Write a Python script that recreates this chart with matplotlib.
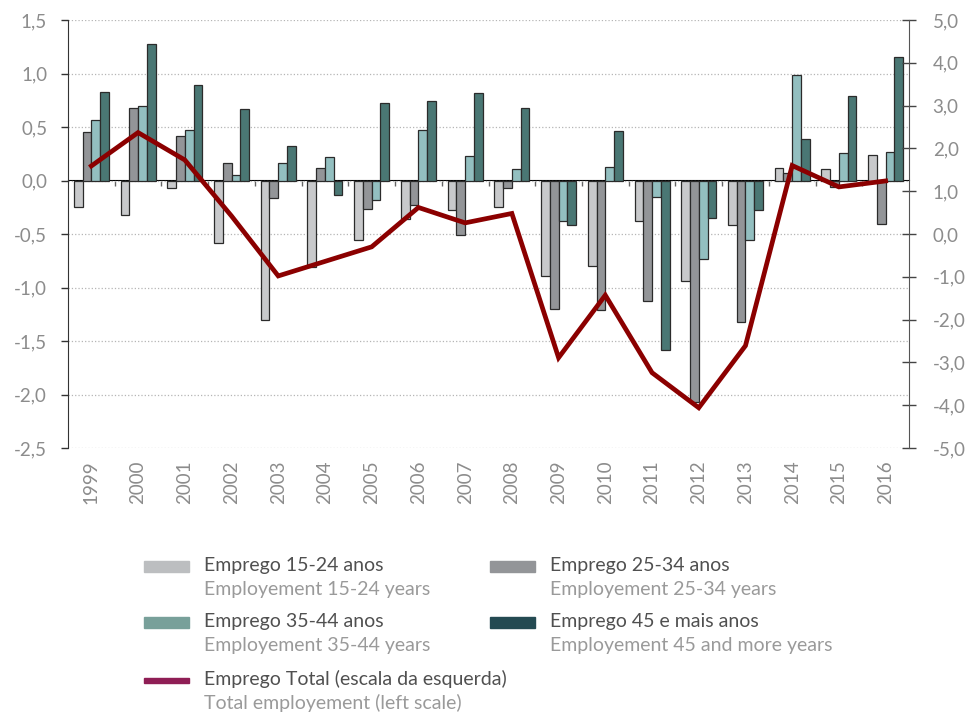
import numpy as np
import matplotlib
matplotlib.use("Agg")
import matplotlib.pyplot as plt
from matplotlib.patches import Rectangle

plt.rcParams['font.family'] = ['Lato', 'DejaVu Sans']

# data
years = [str(y) for y in range(1999, 2017)]
emp_15_24 = [-0.25, -0.32, -0.07, -0.58, -1.30, -0.81, -0.56, -0.36, -0.28, -0.25,
             -0.89, -0.80, -0.38, -0.94, -0.42, 0.12, 0.11, 0.24]
emp_25_34 = [0.45, 0.68, 0.42, 0.16, -0.16, 0.12, -0.27, -0.23, -0.51, -0.07,
             -1.20, -1.21, -1.13, -2.07, -1.32, 0.07, -0.06, -0.41]
emp_35_44 = [0.57, 0.70, 0.47, 0.05, 0.16, 0.22, -0.18, 0.47, 0.23, 0.11,
             -0.38, 0.13, -0.15, -0.73, -0.56, 0.99, 0.26, 0.27]
emp_45_mais = [0.83, 1.28, 0.89, 0.67, 0.32, -0.14, 0.72, 0.74, 0.82, 0.68,
               -0.42, 0.46, -1.58, -0.35, -0.28, 0.39, 0.79, 1.15]
emp_total = [1.59, 2.37, 1.73, 0.42, -0.98, -0.64, -0.30, 0.62, 0.26, 0.48,
             -2.89, -1.43, -3.24, -4.06, -2.61, 1.60, 1.10, 1.24]

series = [emp_15_24, emp_25_34, emp_35_44, emp_45_mais]
bar_cols = ["#c8c9cb", "#939598", "#93bfc0", "#4a7774"]
leg_cols = ["#bcbec0", "#939598", "#78a09a", "#244a52"]
leg_pt = ["Emprego 15-24 anos", "Emprego 25-34 anos", "Emprego 35-44 anos",
          "Emprego 45 e mais anos", "Emprego Total (escala da esquerda)"]
leg_en = ["Employement 15-24 years", "Employement 25-34 years", "Employement 35-44 years",
          "Employement 45 and more years", "Total employement (left scale)"]

W, H = 969, 714
fig = plt.figure(figsize=(W / 100, H / 100), dpi=100)
ax = fig.add_axes([68 / W, 1 - 448 / H, (909 - 68) / W, (448 - 20) / H])

x = np.arange(len(years))
w = 0.75 / 4
for k, vals in enumerate(series):
    ax.bar(x + (k - 1.5) * w, vals, w, color=bar_cols[k], edgecolor="#2b2b2b",
           linewidth=0.9, zorder=3)

grey = "#8c8c8c"
ax.set_xlim(-0.5, len(years) - 0.5)
ax.set_ylim(-2.5, 1.5)
ax.set_yticks(np.arange(-2.5, 1.51, 0.5))
ax.set_yticklabels([f"{v:.1f}".replace(".", ",") for v in np.arange(-2.5, 1.51, 0.5)])
ax.yaxis.grid(True, linestyle=":", color="#b5b5b5", linewidth=0.9, zorder=0)
ax.set_axisbelow(True)
ax.tick_params(axis="y", direction="out", length=5, width=1, color="#333333",
               labelsize=13.5, labelcolor=grey, pad=10)
ax.set_xticks(x)
ax.set_xticklabels(years, rotation=90)
ax.tick_params(axis="x", length=0, labelsize=13.5, labelcolor=grey, pad=9)
for s in ["top", "bottom", "right"]:
    ax.spines[s].set_visible(False)
ax.spines["left"].set_color("#333333")

# zero line with ticks between the years
zero = ax.secondary_xaxis(2.5 / 4)
zero.set_xticks(np.arange(0.5, len(years) - 1, 1.0))
zero.tick_params(direction="out", length=3.5, width=1, color="#666666", labelbottom=False,
                 labeltop=False, bottom=True, top=False)
zero.spines["bottom"].set_color("#222222")
zero.spines["bottom"].set_linewidth(1.1)

ax2 = ax.twinx()
ax2.plot(x, emp_total, color="#8b0000", linewidth=3.4, solid_joinstyle="miter", zorder=5)
ax2.set_ylim(-5, 5)
ax2.set_yticks(np.arange(-5, 5.1, 1))
ax2.set_yticklabels([f"{v:.1f}".replace(".", ",") for v in np.arange(-5, 5.1, 1)])
ax2.tick_params(axis="y", direction="inout", length=10, width=1, color="#444444",
                labelsize=13.5, labelcolor=grey, pad=12)
for s in ["top", "bottom", "left"]:
    ax2.spines[s].set_visible(False)
ax2.spines["right"].set_color("#555555")

# legend drawn in pixel coordinates
lg = fig.add_axes([0, 0, 1, 1])
lg.set_xlim(0, W)
lg.set_ylim(H, 0)
lg.axis("off")
rows = [(565, 589), (621, 646), (679, 703)]
cols = [(144, 204), (490, 550)]
for i in range(5):
    r, c = i // 2, i % 2
    px, tx = cols[c]
    y1, y2 = rows[r]
    if i < 4:
        lg.add_patch(Rectangle((px, y1 - 4), 45, 11, color=leg_cols[i]))
    else:
        lg.add_patch(Rectangle((px, y1 - 1), 45, 4.5, color="#8f1e55"))
    lg.text(tx, y1, leg_pt[i], fontsize=14, color="#505050", va="center", ha="left")
    lg.text(tx, y2, leg_en[i], fontsize=14, color="#9a9a9a", va="center", ha="left")

fig.savefig("out.png", dpi=100)
